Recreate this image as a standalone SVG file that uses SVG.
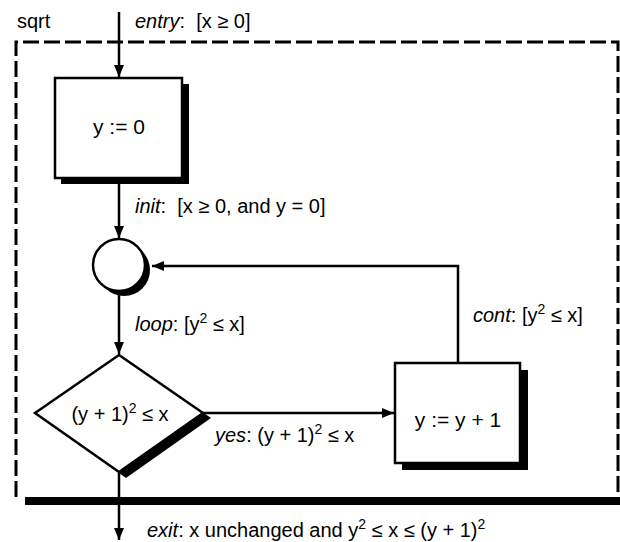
<svg xmlns="http://www.w3.org/2000/svg" width="620" height="542" viewBox="0 0 620 542">
<defs>
<marker id="ah" viewBox="0 0 12 10" refX="12" refY="5" markerWidth="12" markerHeight="10" markerUnits="userSpaceOnUse" orient="auto">
<path d="M0,0 L12,5 L0,10 Z" fill="#000"/>
</marker>
<style>
.t{font-family:"Liberation Sans",Arial,sans-serif;font-size:20px;fill:#000;white-space:pre}
.m{text-anchor:middle}
.i{font-style:italic}
.s{font-size:14px}
.ln{stroke:#000;stroke-width:2.5;fill:none}
.box{fill:#fff;stroke:#000;stroke-width:2.5}
.sh{fill:#000;stroke:none}
.frame{fill:none;stroke:#000;stroke-width:3;stroke-dasharray:16 5}
</style>
</defs>
<rect width="620" height="542" fill="#fff"/>

<g id="frame">
<path class="frame" d="M16,497 L16,42 L618,42 L618,497"/>
<rect class="sh" x="25" y="497" width="595" height="8"/>
<text class="t" x="17" y="28">sqrt</text>
</g>

<g id="connectors">
<line class="ln" x1="119" y1="12" x2="119" y2="77" marker-end="url(#ah)"/>
<line class="ln" x1="119" y1="184" x2="119" y2="238" marker-end="url(#ah)"/>
<line class="ln" x1="119" y1="291" x2="119" y2="354" marker-end="url(#ah)"/>
<line class="ln" x1="203" y1="413" x2="394" y2="413" marker-end="url(#ah)"/>
<polyline class="ln" points="458,363 458,266 152,266" marker-end="url(#ah)"/>
<line class="ln" x1="119" y1="472" x2="119" y2="540" marker-end="url(#ah)"/>
</g>

<g id="labels">
<text class="t" x="135" y="28" xml:space="preserve"><tspan class="i">entry</tspan>:  [x ≥ 0]</text>
<text class="t" x="135" y="213" xml:space="preserve"><tspan class="i">init</tspan>:  [x ≥ 0, and y = 0]</text>
<text class="t" x="135" y="331"><tspan class="i">loop</tspan>: [y<tspan class="s" dy="-8">2</tspan><tspan dy="8"> ≤ x]</tspan></text>
<text class="t" x="473" y="322"><tspan class="i">cont</tspan>: [y<tspan class="s" dy="-8">2</tspan><tspan dy="8"> ≤ x]</tspan></text>
<text class="t" x="215" y="442"><tspan class="i">yes</tspan>: (y + 1)<tspan class="s" dy="-8">2</tspan><tspan dy="8"> ≤ x</tspan></text>
<text class="t" x="147" y="537"><tspan class="i">exit</tspan>: x unchanged and y<tspan class="s" dy="-8">2</tspan><tspan dy="8"> ≤ x ≤ (y + 1)</tspan><tspan class="s" dy="-8">2</tspan></text>
</g>

<g id="init-box">
<rect class="sh" x="61" y="84" width="128" height="100"/>
<rect class="box" x="55" y="78" width="127" height="100"/>
<text class="t m" x="119" y="134" style="font-size:21px">y := 0</text>
</g>

<g id="junction">
<circle class="sh" cx="124" cy="270" r="26"/>
<circle class="box" cx="119" cy="265" r="26"/>
</g>

<g id="decision">
<polygon class="sh" points="126,360 211,418 126,478 42,418"/>
<polygon class="box" points="119,355 203,413 119,472 35,413"/>
<text class="t m" x="120" y="421">(y + 1)<tspan class="s" dy="-8">2</tspan><tspan dy="8"> ≤ x</tspan></text>
</g>

<g id="incr-box">
<rect class="sh" x="402" y="370" width="126" height="100"/>
<rect class="box" x="395" y="363" width="125" height="100"/>
<text class="t m" x="458" y="427" style="font-size:21px">y := y + 1</text>
</g>
</svg>
